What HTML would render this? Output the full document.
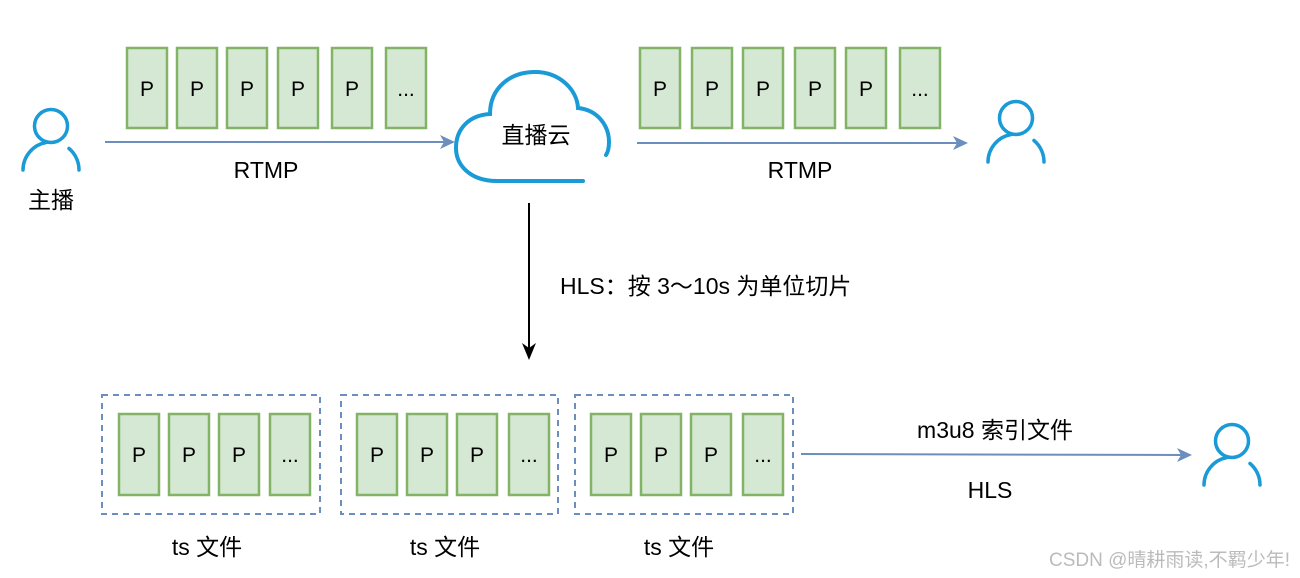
<!DOCTYPE html>
<html><head><meta charset="utf-8"><style>html,body{margin:0;padding:0;background:#fff}svg{display:block}</style></head>
<body>
<svg width="1300" height="578" viewBox="0 0 1300 578" xmlns="http://www.w3.org/2000/svg" font-family="Liberation Sans, Noto Sans CJK SC, sans-serif">
<defs>
<g id="person" fill="none" stroke="#1a9ad6" stroke-width="3.5" stroke-linecap="round">
<circle cx="0" cy="0" r="16.5"/>
<path d="M-28,44 A28,28 0 0 1 -5,16.5"/>
<path d="M18,22.5 A28,28 0 0 1 28,44"/>
</g>
</defs>
<g fill="#d5e8d4" stroke="#82b366" stroke-width="2.5">
<rect x="127" y="48" width="40" height="80"/><rect x="177" y="48" width="40" height="80"/><rect x="227" y="48" width="40" height="80"/><rect x="278" y="48" width="40" height="80"/><rect x="332" y="48" width="40" height="80"/><rect x="386" y="48" width="40" height="80"/>
<rect x="640" y="48" width="40" height="80"/><rect x="692" y="48" width="40" height="80"/><rect x="743" y="48" width="40" height="80"/><rect x="795" y="48" width="40" height="80"/><rect x="846" y="48" width="40" height="80"/><rect x="900" y="48" width="40" height="80"/>
<rect x="119" y="414" width="40" height="81"/><rect x="169" y="414" width="40" height="81"/><rect x="219" y="414" width="40" height="81"/><rect x="270" y="414" width="40" height="81"/>
<rect x="357" y="414" width="40" height="81"/><rect x="407" y="414" width="40" height="81"/><rect x="457" y="414" width="40" height="81"/><rect x="509" y="414" width="40" height="81"/>
<rect x="591" y="414" width="40" height="81"/><rect x="641" y="414" width="40" height="81"/><rect x="691" y="414" width="40" height="81"/><rect x="743" y="414" width="40" height="81"/>
</g>
<g font-size="21" text-anchor="middle" fill="#000">
<text x="147" y="96">P</text><text x="197" y="96">P</text><text x="247" y="96">P</text><text x="298" y="96">P</text><text x="352" y="96">P</text><text x="406" y="96">...</text>
<text x="660" y="96">P</text><text x="712" y="96">P</text><text x="763" y="96">P</text><text x="815" y="96">P</text><text x="866" y="96">P</text><text x="920" y="96">...</text>
<text x="139" y="462">P</text><text x="189" y="462">P</text><text x="239" y="462">P</text><text x="290" y="462">...</text>
<text x="377" y="462">P</text><text x="427" y="462">P</text><text x="477" y="462">P</text><text x="529" y="462">...</text>
<text x="611" y="462">P</text><text x="661" y="462">P</text><text x="711" y="462">P</text><text x="763" y="462">...</text>
</g>
<g fill="none" stroke="#6c8ebf" stroke-width="2" stroke-dasharray="6,5">
<rect x="102" y="395" width="218" height="119"/><rect x="341" y="395" width="217" height="119"/><rect x="575" y="395" width="218" height="119"/>
</g>
<g stroke="#6c8ebf" stroke-width="2">
<line x1="105" y1="142" x2="445" y2="142"/>
<line x1="637" y1="143" x2="958" y2="143"/>
<line x1="801" y1="454" x2="1182" y2="455"/>
</g>
<g fill="#6c8ebf">
<path d="M440,135 L455,142 L440,149 L444,142 Z"/>
<path d="M953,136 L968,143 L953,150 L957,143 Z"/>
<path d="M1177,448 L1192,455 L1177,462 L1181,455 Z"/>
</g>
<line x1="529" y1="203" x2="529" y2="350" stroke="#000" stroke-width="2"/>
<path d="M522,343 L529,360 L536,343 L529,348 Z" fill="#000"/>
<path d="M583,181 L497,181 C470,181 456,165 456,148 C456,128 470,115 490,114 C490,88 510,72 535,72 C560,72 577,90 578,108 C598,110 609,126 609,142 C609,148 608,152 606,155" fill="none" stroke="#1a9ad6" stroke-width="4" stroke-linecap="round"/>
<use href="#person" x="51" y="126"/>
<use href="#person" x="1016" y="118"/>
<use href="#person" x="1232" y="441"/>
<g font-size="23" fill="#000" text-anchor="middle">
<text x="536" y="143">直播云</text>
<text x="266" y="178">RTMP</text>
<text x="800" y="178">RTMP</text>
<text x="51" y="208">主播</text>
<text x="560" y="294" text-anchor="start">HLS：按 3～10s 为单位切片</text>
<text x="995" y="438">m3u8 索引文件</text>
<text x="990" y="498">HLS</text>
<text x="207" y="555">ts 文件</text>
<text x="445" y="555">ts 文件</text>
<text x="679" y="555">ts 文件</text>
</g>
<text x="1290" y="566" font-size="19" fill="#bbb" text-anchor="end">CSDN @晴耕雨读,不羁少年!</text>
</svg>
</body></html>
